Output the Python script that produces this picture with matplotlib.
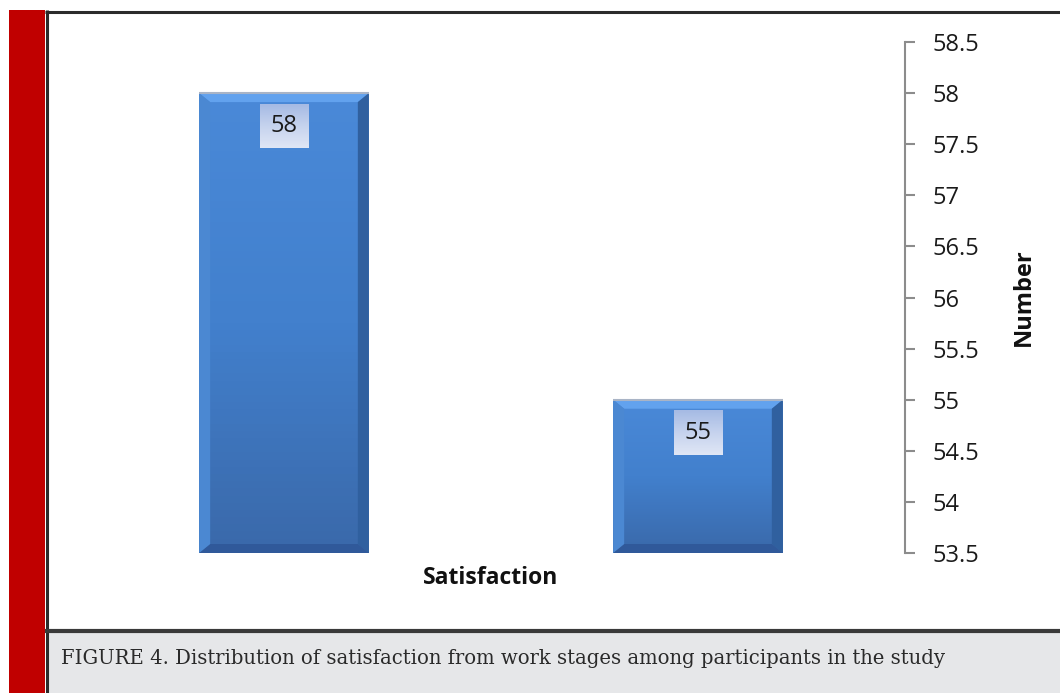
import matplotlib
matplotlib.use("Agg")
import matplotlib.pyplot as plt
import numpy as np
from matplotlib.patches import Rectangle, Polygon
from matplotlib.colors import LinearSegmentedColormap

# Data
categories = ["Satisfied", "Not satisfied"]
values = [58, 55]
y_ticks = [53.5, 54, 54.5, 55, 55.5, 56, 56.5, 57, 57.5, 58, 58.5]
x_label = "Satisfaction"
y_label = "Number"
caption = "FIGURE 4. Distribution of satisfaction from work stages among participants in the study"

W, H = 1060, 693
fig = plt.figure(figsize=(W / 100, H / 100), dpi=100)

# Page decoration drawn in pixel space
bg = fig.add_axes([0, 0, 1, 1], zorder=0)
bg.set_xlim(0, W)
bg.set_ylim(H, 0)
bg.axis("off")
bg.add_patch(Rectangle((9, 10), 36, H - 10, facecolor="#c00000", edgecolor="none"))
bg.add_patch(Rectangle((47, 632), W - 47, H - 632, facecolor="#e6e7e9", edgecolor="none"))
bg.plot([45, W], [11.5, 11.5], color="#2b2b2b", lw=2.2, solid_capstyle="butt")
bg.plot([46.5, 46.5], [10, H], color="#2b2b2b", lw=2.2, solid_capstyle="butt")
bg.plot([45, W], [630.5, 630.5], color="#3a3a3a", lw=3.0, solid_capstyle="butt")
bg.text(61, 664, caption, fontsize=14.15, family="DejaVu Serif",
        color="#2a2a2a", va="baseline", ha="left")

# Chart axes
ax = fig.add_axes([77 / W, 1 - 553 / H, (905 - 77) / W, (553 - 42) / H], zorder=1)
ax.patch.set_alpha(0)
ymin, ymax = y_ticks[0], y_ticks[-1]
ax.set_xlim(-0.5, 1.5)
ax.set_ylim(ymin, ymax)

x = np.arange(len(values))
width = 0.41
bars = ax.bar(x, values, width=width, color="#4682d0", edgecolor="none", zorder=2)

grad = LinearSegmentedColormap.from_list("bar", ["#3a69aa", "#4280cd", "#4a89d8"])
box_grad = LinearSegmentedColormap.from_list("box", ["#dfe6f5", "#c6d3ee", "#a6bbe4"])
xs_px = 1.0 / 412.5
ys_px = 1.0 / 102.2
for b, v, xc in zip(bars, values, x):
    x0, x1 = xc - width / 2, xc + width / 2
    img = ax.imshow(np.linspace(0, 1, 64).reshape(-1, 1), cmap=grad, aspect="auto",
                    extent=(x0, x1, ymin, v), origin="lower", zorder=2)
    img.set_clip_path(b)
    bx, by = 11 * xs_px, 9 * ys_px
    # bevelled edges: light top, dark right and bottom
    ax.add_patch(Polygon([(x0, v), (x1, v), (x1 - bx, v - by), (x0 + bx, v - by)],
                         closed=True, facecolor="#62a2ee", edgecolor="none", zorder=3))
    ax.add_patch(Polygon([(x1, v), (x1, ymin), (x1 - bx, ymin + by), (x1 - bx, v - by)],
                         closed=True, facecolor="#30609f", edgecolor="none", zorder=3))
    ax.add_patch(Polygon([(x0, ymin), (x1, ymin), (x1 - bx, ymin + by), (x0 + bx, ymin + by)],
                         closed=True, facecolor="#30599a", edgecolor="none", zorder=3))
    ax.add_patch(Polygon([(x0, v), (x0, ymin), (x0 + bx, ymin + by), (x0 + bx, v - by)],
                         closed=True, facecolor="#4b88d2", edgecolor="none", zorder=3))
    ax.plot([x0, x1], [v, v], color="#a9b4c6", lw=1.5, zorder=4, solid_capstyle="butt")

    # value label in a shaded box just under the bar top
    bw, bh, gap = 48 * xs_px, 44 * ys_px, 11 * ys_px
    top = v - gap
    ax.imshow(np.linspace(0, 1, 32).reshape(-1, 1), cmap=box_grad, aspect="auto",
              extent=(xc - bw / 2, xc + bw / 2, top - bh, top), origin="lower", zorder=5)
    ax.text(xc, top - bh / 2, f"{v:g}", ha="center", va="center",
            fontsize=17, family="Open Sans", color="#1a1a1a", zorder=6)

ax.set_xlim(-0.5, 1.5)
ax.set_ylim(ymin, ymax)

# Axis styling: only the right value axis is shown
for side in ("top", "left", "bottom"):
    ax.spines[side].set_visible(False)
ax.spines["right"].set_color("#8c8c8c")
ax.spines["right"].set_linewidth(1.5)
ax.yaxis.tick_right()
ax.set_yticks(y_ticks)
ax.set_yticklabels([f"{t:g}" for t in y_ticks])
ax.tick_params(axis="y", direction="out", length=7.5, width=1.5, color="#8c8c8c",
               pad=12.5, labelsize=17, labelcolor="#1a1a1a")
for lab in ax.get_yticklabels():
    lab.set_family("Open Sans")
ax.set_xticks([])
ax.yaxis.set_label_position("right")
ax.set_ylabel(y_label, fontsize=17, fontweight="bold", family="Open Sans",
              color="#111111", labelpad=23)
ax.set_xlabel(x_label, fontsize=16.5, fontweight="bold", family="Open Sans",
              color="#111111", labelpad=9)

fig.savefig("out.png", dpi=100)
